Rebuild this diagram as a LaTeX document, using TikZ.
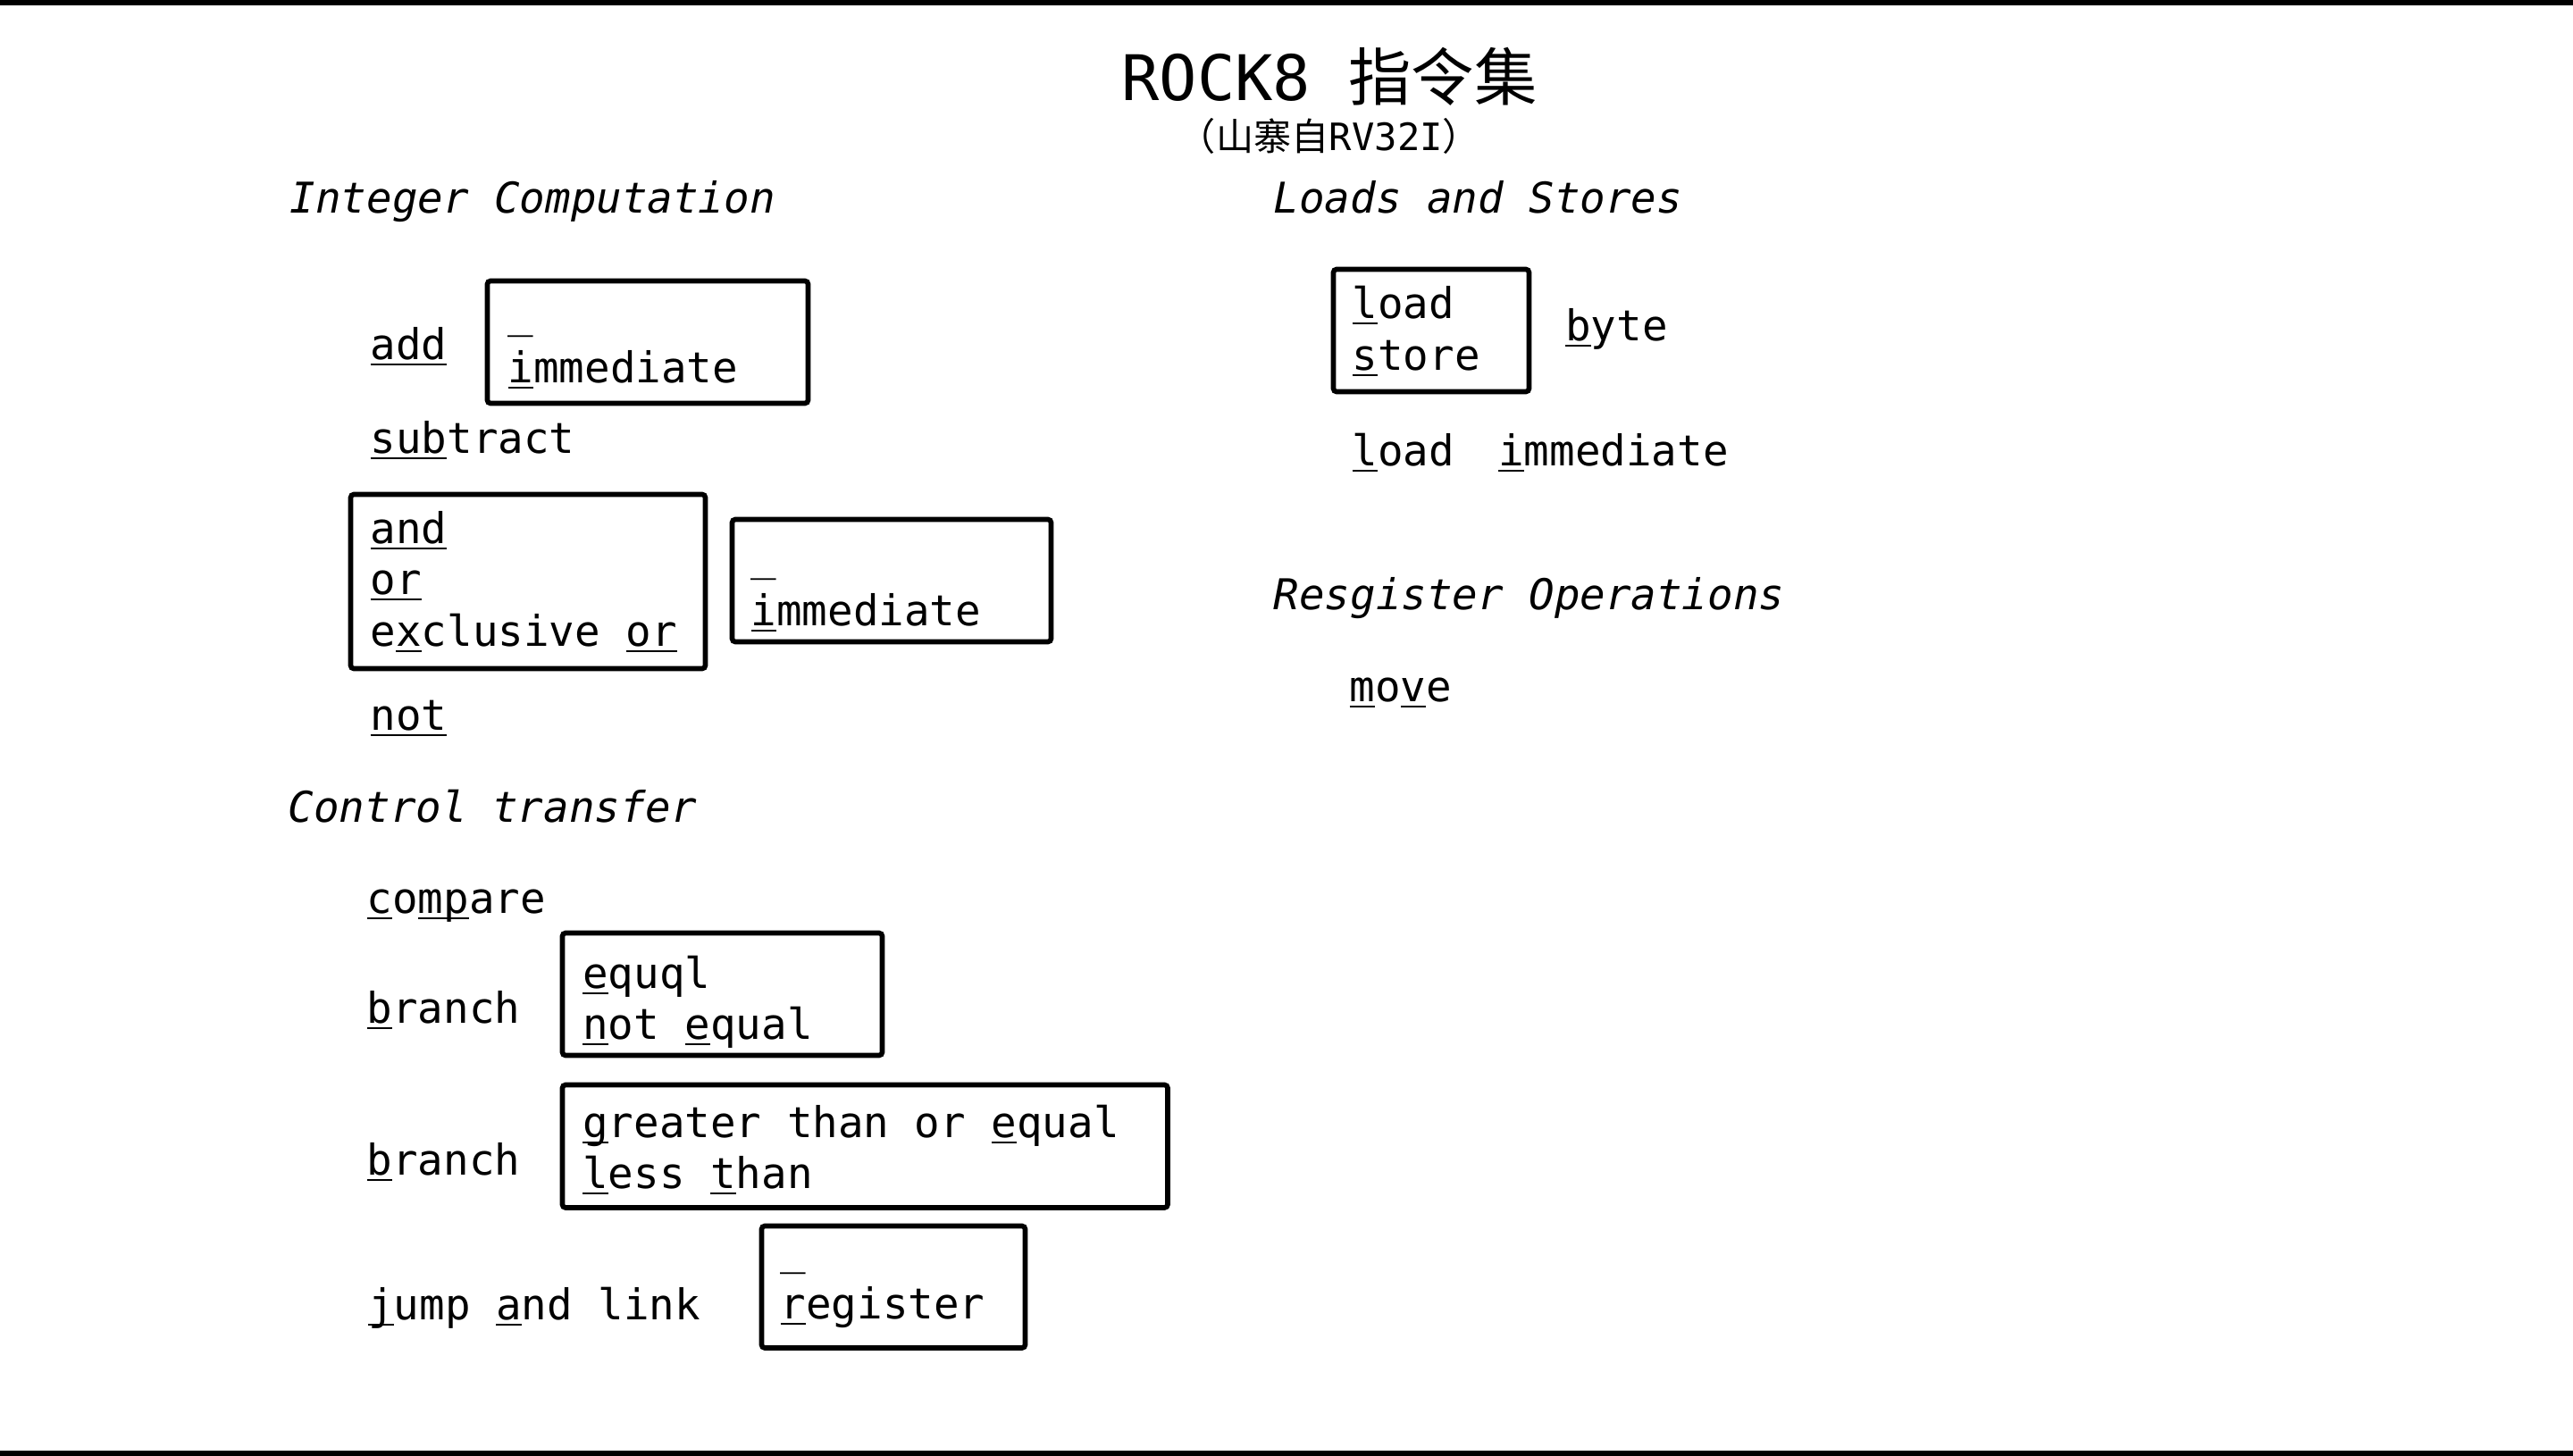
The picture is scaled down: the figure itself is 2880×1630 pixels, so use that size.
\documentclass[tikz,border=0pt]{standalone}
\usepackage{fontspec}
\IfFontExistsTF{SourceCodePro-Regular.otf}{%
  \IfFontExistsTF{SourceCodePro-It.otf}{%
    \setmainfont{SourceCodePro-Regular.otf}[ItalicFont=SourceCodePro-It.otf]}{%
    \setmainfont{SourceCodePro-Regular.otf}[AutoFakeSlant=0.2]}}{%
  \setmainfont{DejaVu Sans Mono}}
\newfontfamily\cjk{Noto Sans CJK SC}
\newcommand\mn[1]{\setbox0=\hbox{#1}\rlap{\rule[-1.9pt]{\wd0}{0.6pt}}\box0}
\tikzset{
	txt/.style={anchor=base west, inner sep=0pt, font=\fontsize{13.5pt}{16pt}\selectfont},
	hd/.style={txt, font=\fontsize{13.5pt}{16pt}\selectfont\itshape},
	ttl/.style={anchor=base, inner sep=0pt, font=\fontsize{20pt}{24pt}\selectfont},
	subt/.style={anchor=base, inner sep=0pt, font=\fontsize{12pt}{14pt}\selectfont},
	bx/.style={line width=1.6pt, rounded corners=1pt},
}

\begin{document}
\begin{tikzpicture}[x=0.01cm, y=-0.01cm]
	\useasboundingbox (0,0) rectangle (2880,1630);
	\fill (0,0) rectangle (2880,6);
	\fill (0,1624) rectangle (2880,1630);

	\node [ttl] (title) at (1488,113) {ROCK8 {\cjk 指令集}};
	\node [subt] (sub) at (1488,168) {{\cjk （山寨自}RV32I{\cjk ）}};

	\node [hd] (intc) at (324,238) {Integer Computation};
	\node [hd] (ctrl) at (322,920) {Control transfer};
	\node [hd] (ldst) at (1425,238) {Loads and Stores};
	\node [hd] (regop) at (1425,682) {Resgister Operations};

	\node [txt] (add) at (414,402) {\mn{add}};
	\draw [bx] (545.5,314.5) rectangle (904.5,451.5);
	\node [txt] (addu) at (568,366) {\_};
	\node [txt] (addi) at (568,428) {\mn{i}mmediate};
	\node [txt] (sub) at (414,507) {\mn{sub}tract};

	\draw [bx] (392.5,553.5) rectangle (789.5,748.5);
	\node [txt] (and) at (414,608) {\mn{and}};
	\node [txt] (or) at (414,665) {\mn{or}};
	\node [txt] (xor) at (414,723) {e\mn{x}clusive \mn{or}};
	\draw [bx] (819.5,581.5) rectangle (1176.5,718.5);
	\node [txt] (logu) at (840,638) {\_};
	\node [txt] (logi) at (840,700) {\mn{i}mmediate};
	\node [txt] (not) at (414,817) {\mn{not}};

	\node [txt] (cmp) at (410,1022) {\mn{c}o\mn{mp}are};
	\node [txt] (br) at (410,1145) {\mn{b}ranch};
	\draw [bx] (629.5,1044.5) rectangle (987.5,1181.5);
	\node [txt] (beq) at (651.7,1106.7) {\mn{e}quql};
	\node [txt] (bne) at (651.7,1163) {\mn{n}ot \mn{e}qual};
	\node [txt] (brr) at (410,1315) {\mn{b}ranch};
	\draw [bx] (629.5,1214.5) rectangle (1307,1352);
	\node [txt] (bge) at (651.7,1273) {\mn{g}reater than or \mn{e}qual};
	\node [txt] (blt) at (651.7,1330) {\mn{l}ess \mn{t}han};
	\node [txt] (jal) at (411.7,1477) {\mn{j}ump \mn{a}nd link};
	\draw [bx] (852.5,1372.5) rectangle (1147.5,1509);
	\node [txt] (jalu) at (873,1415) {\_};
	\node [txt] (jalr) at (873,1476.7) {\mn{r}egister};

	\draw [bx] (1492.5,301.5) rectangle (1711.5,438.5);
	\node [txt] (ld) at (1513,356) {\mn{l}oad};
	\node [txt] (st) at (1513,414) {\mn{s}tore};
	\node [txt] (byte) at (1751.7,381.7) {\mn{b}yte};
	\node [txt] (li) at (1513,521.7) {\mn{l}oad\hspace{1.04em}\mn{i}mmediate};

	\node [txt] (mv) at (1510,785) {\mn{m}o\mn{v}e};
\end{tikzpicture}
\end{document}
